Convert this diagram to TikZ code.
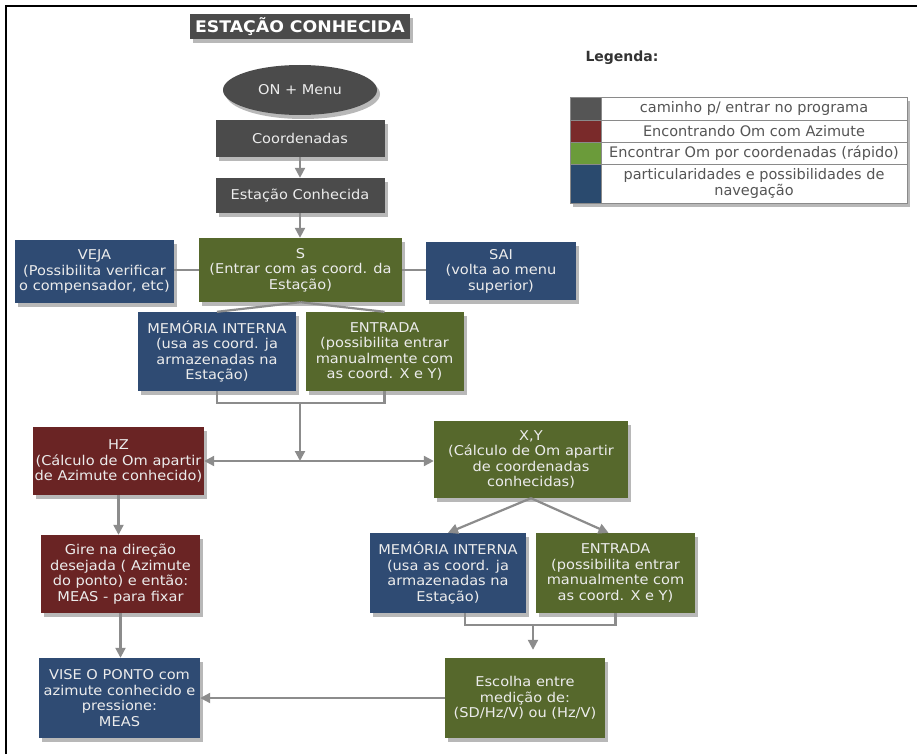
\documentclass[tikz,border=0pt]{standalone}
\usepackage{fontspec}
\setmainfont{DejaVu Sans}
\newfontfamily\boxfont{DejaVu Sans}[FakeStretch=1.08]
\usetikzlibrary{arrows.meta,shapes.geometric,shadows,calc}
\definecolor{cgray}{HTML}{4B4B4B}
\definecolor{cgreen}{HTML}{56682C}
\definecolor{cred}{HTML}{6A2424}
\definecolor{cblue}{HTML}{2F4B73}
\definecolor{boxtext}{HTML}{ECECEC}
\definecolor{cline}{HTML}{8C8C8C}
\definecolor{lgray}{HTML}{555555}
\definecolor{lred}{HTML}{7A2A2A}
\definecolor{lgreen}{HTML}{6B9B3A}
\definecolor{lblue}{HTML}{2A4A6E}
\definecolor{ltext}{HTML}{555555}
\definecolor{lborder}{HTML}{8A8A8A}
\begin{document}
\begin{tikzpicture}[x=1pt,y=-1pt,
  shad/.style={drop shadow={shadow xshift=3pt,shadow yshift=-4pt,opacity=0.28,fill=black}},
  box/.style={shad,draw=none,inner sep=0pt,align=center,text=boxtext,
    font=\boxfont\fontsize{13.5}{15.5}\selectfont},
  gbox/.style={box,fill=cgray},
  grbox/.style={box,fill=cgreen},
  rbox/.style={box,fill=cred},
  bbox/.style={box,fill=cblue},
  conn/.style={draw=cline,line width=2.2pt},
  arr/.style={conn,-{Triangle[length=10pt,width=10pt]}},
  legtext/.style={draw=lborder,line width=0.6pt,fill=white,inner sep=0pt,align=center,
    text=ltext,font=\fontsize{14.5}{16}\selectfont,minimum width=306pt},
  legcol/.style={draw=lborder,line width=0.6pt,inner sep=0pt,minimum width=31pt}]
\useasboundingbox (0,0) rectangle (917,754);
\fill[white] (0,0) rectangle (917,754);
\draw[line width=2.5pt] (6,754) -- (6,6) -- (917,6);

% title
\node[gbox,font=\boxfont\bfseries\fontsize{16}{18}\selectfont,text=white,
  minimum width=220pt,minimum height=25pt] (title) at (300,26.5) {ESTAÇÃO CONHECIDA};

% legend
\node[anchor=west,text=black!80,font=\bfseries\fontsize{14}{16}\selectfont] (legtitle) at (582,58) {Legenda:};
\node[shad,fill=white,inner sep=0pt,minimum width=337pt,minimum height=106pt] (legbox) at (738.5,150) {};
\node[legcol,fill=lgray,minimum height=23pt] (c1) at (585.5,108.5) {};
\node[legtext,minimum height=23pt] (l1) at (754,108.5) {caminho p/ entrar no programa};
\node[legcol,fill=lred,minimum height=22pt] (c2) at (585.5,131) {};
\node[legtext,minimum height=22pt] (l2) at (754,131) {Encontrando Om com Azimute};
\node[legcol,fill=lgreen,minimum height=22pt] (c3) at (585.5,153) {};
\node[legtext,minimum height=22pt] (l3) at (754,153) {Encontrar Om por coordenadas (rápido)};
\node[legcol,fill=lblue,minimum height=39pt] (c4) at (585.5,183.5) {};
\node[legtext,minimum height=39pt] (l4) at (754,183.5) {particularidades e possibilidades de\\navegação};

% flow nodes
\node[gbox,ellipse,minimum width=154pt,minimum height=50pt] (on) at (300,90) {ON + Menu};
\node[gbox,minimum width=169pt,minimum height=37pt] (coord) at (300,138.5) {Coordenadas};
\node[gbox,minimum width=169pt,minimum height=35pt] (estc) at (300,195.5) {Estação Conhecida};
\node[grbox,minimum width=203pt,minimum height=64pt] (s) at (300.5,270) {S\\(Entrar com as coord. da\\Estação)};
\node[bbox,minimum width=159pt,minimum height=63pt] (veja) at (94.5,271.5) {VEJA\\(Possibilita verificar\\o compensador, etc)};
\node[bbox,minimum width=150pt,minimum height=58pt] (sai) at (501,271) {SAI\\(volta ao menu\\superior)};
\node[bbox,minimum width=158pt,minimum height=79pt] (mem1) at (217,351.5) {MEMÓRIA INTERNA\\(usa as coord. ja\\armazenadas na\\Estação)};
\node[grbox,minimum width=158pt,minimum height=79pt] (ent1) at (384.5,351.5) {ENTRADA\\(possibilita entrar\\manualmente com\\as coord. X e Y)};
\node[rbox,minimum width=171pt,minimum height=68pt] (hz) at (118.5,461) {HZ\\(Cálculo de Om apartir\\de Azimute conhecido)};
\node[grbox,minimum width=194pt,minimum height=77pt] (xy) at (531,459.5) {X,Y\\(Cálculo de Om apartir\\de coordenadas\\conhecidas)};
\node[rbox,minimum width=159pt,minimum height=78pt] (gire) at (120.5,574) {Gire na direção\\desejada ( Azimute\\do ponto) e então:\\MEAS - para fixar};
\node[bbox,minimum width=156pt,minimum height=80pt] (mem2) at (448,573) {MEMÓRIA INTERNA\\(usa as coord. ja\\armazenadas na\\Estação)};
\node[grbox,minimum width=159pt,minimum height=80pt] (ent2) at (615.5,573) {ENTRADA\\(possibilita entrar\\manualmente com\\as coord. X e Y)};
\node[bbox,minimum width=161pt,minimum height=80pt] (vise) at (119.5,698) {VISE O PONTO com\\azimute conhecido e\\pressione:\\MEAS};
\node[grbox,minimum width=160pt,minimum height=80pt] (esc) at (525,698) {Escolha entre\\medição de:\\(SD/Hz/V) ou (Hz/V)};

% connectors
\draw[arr] (coord.south) -- (estc.north);
\draw[arr] (estc.south) -- (s.north -| estc.south);
\draw[conn] (s.west) -- (veja.east |- s.west);
\draw[conn] (s.east) -- (sai.west |- s.east);
\draw[conn] (s.south) -- (mem1.north);
\draw[conn] (s.south) -- (ent1.north);
\coordinate (j1) at (300,403);
\coordinate (j2) at (300,461);
\draw[conn] (mem1.south) |- (j1) -| (ent1.south);
\draw[arr] (j1) -- (j2);
\draw[arr] (j2) -- (hz.east |- j2);
\draw[arr] (j2) -- (xy.west |- j2);
\draw[arr] (hz.south) -- (hz.south |- gire.north);
\draw[arr] (gire.south) -- (gire.south |- vise.north);
\draw[arr] (xy.south) -- (mem2.north);
\draw[arr] (xy.south) -- ($(ent2.north)+(-7,0)$);
\coordinate (m2) at (465,613);
\coordinate (j3) at (533,625);
\draw[conn] (m2) |- (j3) -| (ent2.south);
\draw[arr,shorten >=8pt] (j3) -- (esc.north -| j3);
\draw[arr] (esc.west) -- (vise.east |- esc.west);
\end{tikzpicture}
\end{document}
